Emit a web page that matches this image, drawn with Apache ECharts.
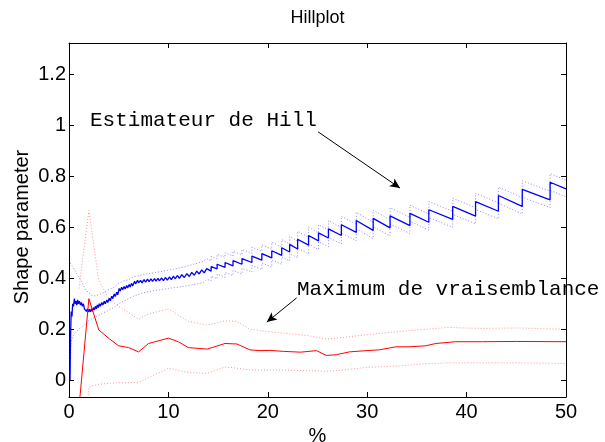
<!DOCTYPE html>
<html><head><meta charset="utf-8">
<script src="https://cdn.jsdelivr.net/npm/echarts@6/dist/echarts.min.js"></script>
<style>html,body{margin:0;padding:0;background:#fff}#c{width:605px;height:442px}</style>
</head><body><div id="c"></div>
<script>
const xTicks = [0, 10, 20, 30, 40, 50];
const yTicks = [0, 0.2, 0.4, 0.6, 0.8, 1, 1.2];

// Hill estimator, first part (dense small teeth)
const hillEarlyX = [0.1,0.15,0.22,0.3,0.37,0.45,0.54,0.62,0.7,0.78,0.87,0.95,1.05,1.15,1.25,1.35,1.45,1.55,1.65,1.75,1.85,1.95,2.05,2.15,2.25,2.35,2.45,2.55,2.65,2.75,2.85,2.95,3.05,3.15,3.3,3.4,3.55,3.65,3.8,3.9,4.05,4.15,4.3,4.4,4.55,4.65,4.8,4.9,5.05,5.15,5.3,5.4,5.55,5.65,5.8,5.9,6.05,6.15,6.3,6.4,6.6,6.7,6.9,7.0,7.2,7.35,7.55,7.7,7.9,8.05,8.25,8.4,8.6,8.75,8.95,9.1,9.3,9.5,9.7,9.9,10.1,10.3,10.5,10.7,10.9,11.1,11.35,11.6,11.85,12.1,12.35,12.6,12.85,13.1,13.35,13.6,13.85];
const hillEarlyY = [0.0,0.16,0.27,0.25,0.30,0.29,0.32,0.30,0.31,0.295,0.315,0.30,0.31,0.295,0.305,0.29,0.30,0.28,0.285,0.27,0.28,0.268,0.278,0.268,0.28,0.27,0.285,0.275,0.29,0.28,0.295,0.285,0.30,0.29,0.305,0.295,0.31,0.30,0.315,0.305,0.322,0.312,0.33,0.32,0.338,0.328,0.345,0.335,0.36,0.35,0.365,0.355,0.368,0.358,0.372,0.362,0.376,0.366,0.38,0.37,0.388,0.378,0.392,0.382,0.392,0.382,0.395,0.385,0.397,0.387,0.398,0.388,0.399,0.389,0.40,0.39,0.401,0.391,0.403,0.393,0.405,0.395,0.408,0.398,0.411,0.40,0.414,0.403,0.418,0.407,0.423,0.412,0.428,0.417,0.433,0.421,0.438];

// Hill estimator, sawtooth part: jump positions, value before jump, value after jump
const hillJumpX = [14.3,14.9,15.7,16.5,17.4,18.4,19.4,20.4,21.4,22.2,23.0,24.1,25.1,26.1,27.4,28.9,30.6,32.3,34.3,36.2,38.6,40.9,43.2,45.6,48.4];
const hillBot = [0.428,0.437,0.443,0.449,0.455,0.462,0.471,0.480,0.490,0.503,0.515,0.530,0.547,0.558,0.568,0.580,0.588,0.598,0.607,0.620,0.631,0.644,0.663,0.682,0.708];
const hillTop = [0.446,0.455,0.462,0.469,0.477,0.487,0.497,0.508,0.520,0.533,0.553,0.568,0.578,0.594,0.610,0.627,0.635,0.645,0.655,0.669,0.682,0.701,0.725,0.749,0.777];
const hillEnd = [50, 0.751];

// Hill upper confidence band
const upEarlyX = [0.1,0.3,0.6,0.9,1.3,1.6,1.9,2.2,2.5,2.8,3.1,3.5,4.0,4.5,5.0,5.5,6.0,6.5,7.0,7.5,8.0,8.5,9.0,9.5,10.0,10.5,11.0,11.5,12.0,12.5,13.0,13.5,13.85];
const upEarlyY = [0.46,0.45,0.43,0.41,0.385,0.36,0.345,0.335,0.33,0.333,0.337,0.345,0.355,0.365,0.38,0.39,0.395,0.405,0.41,0.414,0.418,0.421,0.425,0.428,0.432,0.436,0.44,0.444,0.449,0.455,0.46,0.466,0.477];
const upBot = [0.468,0.477,0.482,0.487,0.492,0.498,0.506,0.514,0.523,0.535,0.546,0.562,0.578,0.590,0.600,0.612,0.620,0.630,0.639,0.652,0.663,0.677,0.696,0.716,0.742];
const upTop = [0.486,0.494,0.500,0.506,0.513,0.522,0.531,0.541,0.552,0.564,0.584,0.600,0.610,0.627,0.643,0.659,0.667,0.677,0.687,0.701,0.714,0.734,0.758,0.783,0.811];
const upEnd = [50, 0.785];

// Hill lower confidence band
const loEarlyX = [0.1,0.2,0.5,1.0,1.5,2.0,2.5,3.0,3.5,4.0,4.5,5.0,5.5,6.0,6.5,7.0,7.5,8.0,8.5,9.0,9.5,10.0,10.5,11.0,11.5,12.0,12.5,13.0,13.5,13.85];
const loEarlyY = [0.0,0.15,0.18,0.2,0.215,0.235,0.245,0.255,0.265,0.275,0.285,0.30,0.31,0.32,0.33,0.337,0.343,0.348,0.351,0.354,0.357,0.36,0.363,0.365,0.368,0.371,0.375,0.379,0.383,0.396];
const loBot = [0.390,0.398,0.404,0.411,0.417,0.425,0.434,0.444,0.455,0.468,0.480,0.496,0.513,0.524,0.535,0.548,0.556,0.566,0.576,0.589,0.600,0.614,0.633,0.652,0.678];
const loTop = [0.408,0.416,0.423,0.431,0.439,0.450,0.460,0.472,0.484,0.498,0.518,0.534,0.544,0.560,0.577,0.594,0.603,0.613,0.624,0.638,0.651,0.670,0.695,0.718,0.745];
const loEnd = [50, 0.720];

// Maximum likelihood estimator
const mlX = [1.0,2.0,3.0,4.1,5.0,6.0,7.0,8.0,10.0,11.0,12.0,13.9,15.7,16.9,18.2,19.2,20.2,21.6,23.3,24.9,25.9,26.9,28.2,29.9,31.2,32.9,34.2,35.9,36.9,38.9,41.6,45.0,50.0];
const mlY = [-0.11,0.32,0.197,0.161,0.135,0.128,0.111,0.144,0.165,0.151,0.128,0.122,0.144,0.142,0.119,0.116,0.117,0.113,0.11,0.116,0.097,0.10,0.111,0.116,0.119,0.131,0.131,0.135,0.144,0.151,0.151,0.152,0.151];
const mlBandX = [1.0,2.0,3.0,4.1,5.0,6.0,7.0,8.0,10.0,12.0,13.9,15.7,16.9,18.2,20.2,22.6,24.2,25.9,27.6,29.9,32.9,35.9,38.2,41.6,45.0,50.0];
const mlUp = [0.36,0.666,0.39,0.315,0.29,0.265,0.24,0.26,0.28,0.231,0.216,0.233,0.231,0.2,0.19,0.181,0.174,0.161,0.168,0.178,0.19,0.2,0.207,0.203,0.205,0.2];
const mlLo = [-0.6,-0.026,-0.016,-0.012,-0.01,-0.01,-0.009,0.01,0.047,0.03,0.027,0.052,0.047,0.04,0.04,0.039,0.037,0.035,0.04,0.05,0.055,0.065,0.068,0.068,0.068,0.066];

// Texts and annotation arrows (data coordinates)
const titleText = 'Hillplot';
const xName = '%';
const yName = 'Shape parameter';
const labelHill = 'Estimateur de Hill';
const labelML = 'Maximum de vraisemblance';
const arrowHill = [[25.05, 0.975], [33.3, 0.754]];
const arrowML = [[22.9, 0.323], [19.9, 0.228]];

function pairs(xs, ys) { return xs.map((x, i) => [x, ys[i]]); }
function saw(earlyX, earlyY, jx, bot, top, end) {
  const d = pairs(earlyX, earlyY);
  for (let i = 0; i < jx.length; i++) { d.push([jx[i], bot[i]]); d.push([jx[i], top[i]]); }
  d.push(end);
  return d;
}

const chart = echarts.init(document.getElementById('c'), null, {renderer: 'canvas'});
const font = 'Liberation Sans, Arial, sans-serif';
const mono = 'Liberation Mono, Courier New, monospace';
const bandBlue = {color: 'rgba(40,40,255,0.55)', width: 1, type: [1, 2]};
const bandRed = {color: 'rgba(255,40,40,0.5)', width: 1, type: [1, 2]};
const axLine = {show: true, onZero: false, lineStyle: {color: '#000', width: 1}};

const option = {
  animation: false,
  backgroundColor: '#fff',
  grid: {left: 69, right: 39, top: 43, bottom: 45, containLabel: false, outerBoundsMode: 'none'},
  xAxis: [
    {type: 'value', min: 0, max: 50, interval: 10, position: 'bottom',
     axisLine: axLine,
     axisTick: {show: true, inside: true, length: 5, lineStyle: {color: '#000'}},
     axisLabel: {fontFamily: font, fontSize: 20, color: '#000', margin: 5},
     splitLine: {show: false},
     name: xName, nameLocation: 'middle', nameGap: 26,
     nameTextStyle: {fontFamily: font, fontSize: 20, color: '#000'}},
    {type: 'value', min: 0, max: 50, interval: 10, position: 'top',
     axisLine: axLine,
     axisTick: {show: true, inside: true, length: 5, lineStyle: {color: '#000'}},
     axisLabel: {show: false}, splitLine: {show: false}}
  ],
  yAxis: [
    {type: 'value', min: -0.066, max: 1.3235, position: 'left',
     axisLine: axLine,
     axisTick: {show: true, inside: true, length: 5, customValues: yTicks, lineStyle: {color: '#000'}},
     axisLabel: {fontFamily: font, fontSize: 20, color: '#000', margin: 3, customValues: yTicks},
     splitLine: {show: false}},
    {type: 'value', min: -0.066, max: 1.3235, position: 'right',
     axisLine: axLine,
     axisTick: {show: true, inside: true, length: 5, customValues: yTicks, lineStyle: {color: '#000'}},
     axisLabel: {show: false, customValues: yTicks}, splitLine: {show: false}}
  ],
  series: [
    {type: 'line', showSymbol: false, silent: true, lineStyle: bandBlue, data: saw(upEarlyX, upEarlyY, hillJumpX, upBot, upTop, upEnd)},
    {type: 'line', showSymbol: false, silent: true, lineStyle: bandBlue, data: saw(loEarlyX, loEarlyY, hillJumpX, loBot, loTop, loEnd)},
    {type: 'line', showSymbol: false, silent: true, lineStyle: bandRed, data: pairs(mlBandX, mlUp)},
    {type: 'line', showSymbol: false, silent: true, lineStyle: bandRed, data: pairs(mlBandX, mlLo)},
    {type: 'line', showSymbol: false, silent: true, lineStyle: {color: '#0000ff', width: 1.3}, data: saw(hillEarlyX, hillEarlyY, hillJumpX, hillBot, hillTop, hillEnd)},
    {type: 'line', showSymbol: false, silent: true, lineStyle: {color: '#ff0000', width: 1}, data: pairs(mlX, mlY),
     markLine: {silent: true, symbol: ['none', 'arrow'], symbolSize: [7, 10], animation: false,
       lineStyle: {color: '#000', width: 1, type: 'solid'}, label: {show: false},
       emphasis: {disabled: true},
       data: [
         [{coord: arrowHill[0]}, {coord: arrowHill[1]}],
         [{coord: arrowML[0]}, {coord: arrowML[1]}]
       ]}}
  ],
  graphic: [
    {type: 'text', x: 317.5, y: 18, style: {text: titleText, font: '18px ' + font, fill: '#000', align: 'center', verticalAlign: 'middle'}},
    {type: 'text', x: 22, y: 227, rotation: Math.PI / 2, style: {text: yName, font: '20px ' + font, fill: '#000', align: 'center', verticalAlign: 'middle'}},
    {type: 'text', x: 90, y: 120, style: {text: labelHill, font: '21px ' + mono, fill: '#000', verticalAlign: 'middle'}},
    {type: 'text', x: 297, y: 289, style: {text: labelML, font: '21px ' + mono, fill: '#000', verticalAlign: 'middle'}}
  ]
};
chart.setOption(option);
</script>
</body></html>
